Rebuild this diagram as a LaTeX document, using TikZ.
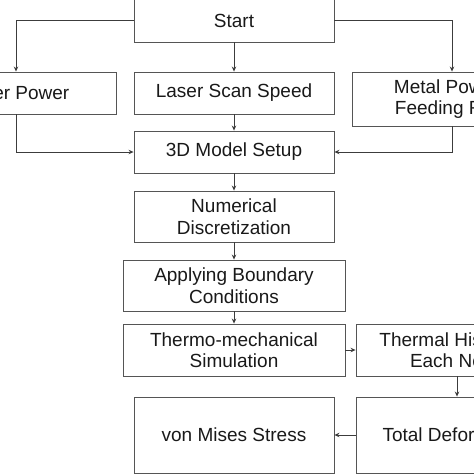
\documentclass[tikz,border=0pt]{standalone}
\usepackage{fontspec}
\setmainfont{Liberation Sans}
\usetikzlibrary{arrows.meta}

\definecolor{boxline}{HTML}{555555}
\definecolor{flowline}{HTML}{3C3C3C}

\tikzset{
  stage/.style={draw=boxline, line width=0.9pt, minimum width=200pt,
    minimum height=42pt, align=center, inner sep=2pt,
    font=\fontsize{19}{21.5}\selectfont, text=black!90},
  flow/.style={draw=flowline, line width=0.7pt,
    -{Stealth[length=5pt,width=4.5pt]}}
}

\begin{document}
\begin{tikzpicture}[x=1pt,y=-1pt]

  % Frame (the figure is cut at the edges)
  \useasboundingbox (0,0) rectangle (474,474);
  \clip (0,0) rectangle (474,474);

  % Start and process parameters
  \node[stage, minimum height=43pt] (start) at (234,20.5) {Start};
  \node[stage] (power) at (16,93) {Laser Power};
  \node[stage] (speed) at (234,93) {Laser Scan Speed};
  \node[stage, minimum height=54pt] (feed) at (452,99)
      {Metal Powder\\Feeding Rate};

  % Modelling steps
  \node[stage] (model) at (234,152) {3D Model Setup};
  \node[stage, minimum height=51pt] (discr) at (234,216.5)
      {Numerical\\Discretization};
  \node[stage, minimum width=222pt, minimum height=51pt] (bound) at (234,285.5)
      {Applying Boundary\\Conditions};
  \node[stage, minimum width=222pt, minimum height=52pt] (thermo) at (234,350)
      {Thermo-mechanical\\Simulation};
  \node[stage, minimum width=202pt, minimum height=52pt] (history) at (457,350)
      {Thermal History of\\Each Node};

  % Results
  \node[stage, minimum width=202pt, minimum height=76pt] (deform) at (457,435)
      {Total Deformation};
  \node[stage, minimum height=76pt] (mises) at (234,435) {von Mises Stress};

  % Connectors
  \draw[flow] (start.west) -| (power.north);
  \draw[flow] (start.south) -- (speed.north);
  \draw[flow] (start.east) -| (feed.north);
  \draw[flow] (power.south) |- (model.west);
  \draw[flow] (speed.south) -- (model.north);
  \draw[flow] (feed.south) |- (model.east);
  \draw[flow] (model.south) -- (discr.north);
  \draw[flow] (discr.south) -- (bound.north);
  \draw[flow] (bound.south) -- (thermo.north);
  \draw[flow] (thermo.east) -- (history.west);
  \draw[flow] (history.south) -- (deform.north);
  \draw[flow] (deform.west) -- (mises.east);

\end{tikzpicture}
\end{document}
